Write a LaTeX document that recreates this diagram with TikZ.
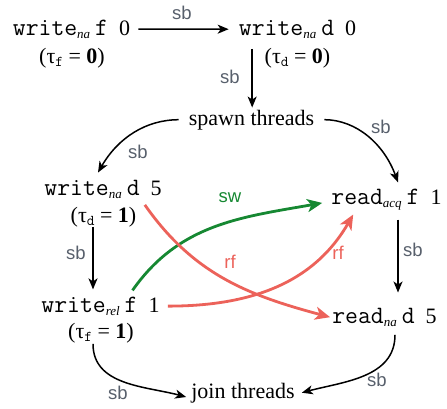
\documentclass[tikz,border=0pt]{standalone}
\usepackage{fontspec}
\setmainfont{Liberation Serif}
\setsansfont{Liberation Sans}
\usetikzlibrary{arrows.meta,calc}
\definecolor{sbgray}{RGB}{88,96,108}
\definecolor{swgreen}{RGB}{22,136,50}
\definecolor{rfred}{RGB}{236,98,90}
\newcommand\tw[1]{{\fontsize{25}{26}\selectfont\ttfamily #1}}
\newcommand\subit[1]{\raisebox{-0.35ex}{\fontsize{13}{13}\selectfont\itshape #1}}
\newcommand\subtt[1]{\raisebox{-0.35ex}{\fontsize{15}{15}\selectfont\ttfamily #1}}
\newcommand\gap{\hspace{5pt}}
\begin{document}
\begin{tikzpicture}[x=1pt,y=1pt,
  txt/.style={font=\fontsize{22}{26}\selectfont, inner sep=2pt, anchor=base},
  lbl/.style={font=\sffamily\fontsize{18.5}{20}\selectfont, text=sbgray, inner sep=1pt},
  swlbl/.style={font=\sffamily\fontsize{18.5}{20}\selectfont, text=swgreen, inner sep=1pt},
  rflbl/.style={font=\sffamily\fontsize{18.5}{20}\selectfont, text=rfred, inner sep=1pt},
  blk/.style={line width=1.5pt, -{Stealth[length=11pt,width=9pt,inset=3pt]}},
  swarrow/.style={draw=swgreen, line width=2.8pt, -{Stealth[length=15pt,width=13pt,inset=4pt]}},
  rfarrow/.style={draw=rfred, line width=2.8pt, -{Stealth[length=15pt,width=13pt,inset=4pt]}}]
\useasboundingbox (0,0) rectangle (447,-408);

% nodes
\node[txt] (wf0) at (71.5,-35) {\tw{write}\subit{na}\gap\tw{f}\enspace 0};
\node[txt] (tf0) at (72,-63) {(τ\subtt{f} = \textbf{0})};
\node[txt] (wd0) at (297.5,-35) {\tw{write}\subit{na}\gap\tw{d}\enspace 0};
\node[txt] (td0) at (297.5,-63) {(τ\subtt{d} = \textbf{0})};
\node[txt] (spawn) at (251.5,-125) {spawn threads};
\node[txt] (wd5) at (103,-195) {\tw{write}\subit{na}\gap\tw{d}\enspace 5};
\node[txt] (td5) at (103.5,-222) {(τ\subtt{d} = \textbf{1})};
\node[txt] (ra) at (386.5,-204) {\tw{read}\subit{acq}\gap\tw{f}\enspace 1};
\node[txt] (wr1) at (100.5,-312) {\tw{write}\subit{rel}\gap\tw{f}\enspace 1};
\node[txt] (tf1) at (101,-338) {(τ\subtt{f} = \textbf{1})};
\node[txt] (rn) at (384.5,-323) {\tw{read}\subit{na}\gap\tw{d}\enspace 5};
\node[txt] (join) at (243,-398) {join threads};

% helper coordinates
\coordinate (bstart) at ($(wd0.south west)+(15.5,-8)$);
\coordinate (cstart) at ($(td5.south)+(-10.5,2)$);
\coordinate (dstart) at ($(ra.south)+(11.5,-7)$);

% sb edges
\draw[blk, shorten <=6pt, shorten >=8pt] (wf0.east) -- (wd0.west);
\draw[blk] (bstart) -- (bstart |- spawn.north);
\draw[blk, shorten <=8pt] (spawn.west) to[out=180,in=60] ($(wd5.north)+(-5,5)$);
\draw[blk, shorten <=8pt] (spawn.east) to[out=0,in=110] ($(ra.north)+(11.5,4)$);
\draw[blk, shorten >=5pt] (cstart) -- (cstart |- wr1.north);
\draw[blk, shorten >=13pt] (dstart) -- (dstart |- rn.north);
\draw[blk] ($(tf1.south)+(-8,1)$) to[out=-90,in=165] ($(join.base west)+(-3,1)$);
\draw[blk] ($(rn.south)+(10.5,-6)$) to[out=-90,in=15] ($(join.east)+(5,0)$);

% sw / rf edges
\draw[swarrow] ($(wr1.north)+(32,4)$) to[out=55,in=190] ($(ra.west)+(-7,-3.5)$);
\draw[rfarrow] ($(wd5.south east)+(-19,-4)$) to[out=-55,in=165] (rn.west);
\draw[rfarrow] ($(wr1.east)+(6,0)$) to[out=0,in=-120] ($(ra.south west)+(24,-2)$);

% labels
\node[lbl] (l1) at (182,-13) {sb};
\node[lbl] (l2) at (230,-77) {sb};
\node[lbl] (l3) at (138,-152) {sb};
\node[lbl] (l4) at (381,-127) {sb};
\node[lbl] (l5) at (76,-253) {sb};
\node[lbl] (l6) at (413,-250) {sb};
\node[lbl] (l7) at (118,-393) {sb};
\node[lbl] (l8) at (377,-380) {sb};
\node[swlbl] (l9) at (230,-198) {sw};
\node[rflbl] (l10) at (230,-262) {rf};
\node[rflbl] (l11) at (338,-253) {rf};
\end{tikzpicture}
\end{document}
